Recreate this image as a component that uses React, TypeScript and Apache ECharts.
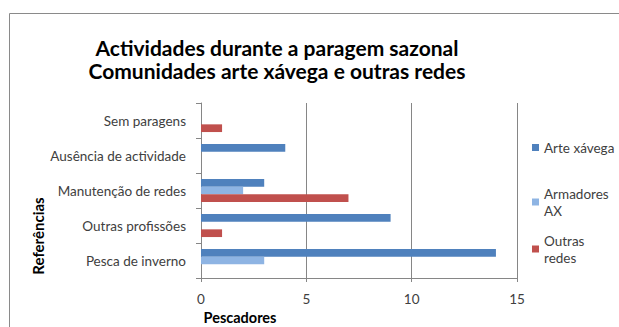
import React, { useEffect, useRef } from "react";
import * as echarts from "echarts";

const categories = [
  "Pesca de inverno",
  "Outras profissões",
  "Manutenção de redes",
  "Ausência de actividade",
  "Sem paragens",
];
const arteXavega = [14, 9, 3, 4, 0];
const armadoresAX = [3, 0, 2, 0, 0];
const outrasRedes = [0, 1, 7, 0, 1];
const xTicks = [0, 5, 10, 15];

const titleLines = [
  "Actividades durante a paragem sazonal",
  "Comunidades arte xávega e outras redes",
];

const FONT = "Lato, 'Noto Sans', sans-serif";

export default function App() {
  const ref = useRef<HTMLDivElement>(null);
  useEffect(() => {
    if (!ref.current) return;
    const chart = echarts.init(ref.current, null, { renderer: "svg" });
    const legendBase = {
      orient: "vertical",
      left: 527,
      icon: "rect",
      itemWidth: 7,
      itemHeight: 7,
      textStyle: { fontFamily: FONT, fontSize: 13.5, color: "#404040", lineHeight: 17 },
    };
    chart.setOption({
      animation: false,
      backgroundColor: "#ffffff",
      textStyle: { fontFamily: FONT },
      title: {
        text: titleLines.join("\n"),
        left: 272,
        top: 31,
        textAlign: "center",
        textStyle: {
          fontFamily: FONT,
          fontSize: 21,
          fontWeight: "bold",
          color: "#000",
          lineHeight: 23,
        },
      },
      legend: [
        { ...legendBase, top: 134, data: ["Arte xávega"] },
        { ...legendBase, top: 180, data: ["Armadores AX"], formatter: "Armadores\nAX" },
        { ...legendBase, top: 227, data: ["Outras redes"], formatter: "Outras\nredes" },
      ],
      grid: { left: 201, right: 102, top: 103, bottom: 49, containLabel: false },
      xAxis: {
        type: "value",
        min: xTicks[0],
        max: xTicks[xTicks.length - 1],
        interval: 5,
        axisLine: { show: true, lineStyle: { color: "#868686" } },
        axisTick: { show: true, length: 4, lineStyle: { color: "#868686" } },
        axisLabel: { fontFamily: FONT, fontSize: 13.5, color: "#404040", margin: 14 },
        splitLine: { show: true, lineStyle: { color: "#868686", width: 1 } },
      },
      yAxis: {
        type: "category",
        data: categories,
        axisLine: { show: true, lineStyle: { color: "#868686" } },
        axisTick: { show: true, length: 5, lineStyle: { color: "#868686" } },
        axisLabel: { fontFamily: FONT, fontSize: 13.5, color: "#404040", margin: 15 },
      },
      series: [
        {
          name: "Arte xávega",
          type: "bar",
          data: arteXavega,
          itemStyle: { color: "#4F81BD" },
          barGap: "0%",
          barCategoryGap: "34%",
        },
        {
          name: "Armadores AX",
          type: "bar",
          data: armadoresAX,
          itemStyle: { color: "#8EB4E3" },
          barGap: "0%",
          barCategoryGap: "34%",
        },
        {
          name: "Outras redes",
          type: "bar",
          data: outrasRedes,
          itemStyle: { color: "#C0504D" },
          barGap: "0%",
          barCategoryGap: "34%",
        },
      ],
      graphic: [
        {
          type: "rect",
          shape: { x: 9.5, y: 13.5, width: 700, height: 400 },
          style: { fill: "none", stroke: "#8a8a8a", lineWidth: 1 },
          silent: true,
          z: -1,
        },
        {
          type: "text",
          x: 240,
          y: 317,
          style: {
            text: "Pescadores",
            fontFamily: FONT,
            fontSize: 14.5,
            fontWeight: "bold",
            fill: "#000",
            textAlign: "center",
            textVerticalAlign: "middle",
          },
        },
        {
          type: "text",
          x: 38,
          y: 236,
          rotation: Math.PI / 2,
          style: {
            text: "Referências",
            fontFamily: FONT,
            fontSize: 15,
            fontWeight: "bold",
            fill: "#000",
            textAlign: "center",
            textVerticalAlign: "middle",
          },
        },
      ],
    });
    return () => chart.dispose();
  }, []);
  return (
    <div
      ref={ref}
      style={{ position: "fixed", left: 0, top: 0, width: 619, height: 327 }}
    />
  );
}
